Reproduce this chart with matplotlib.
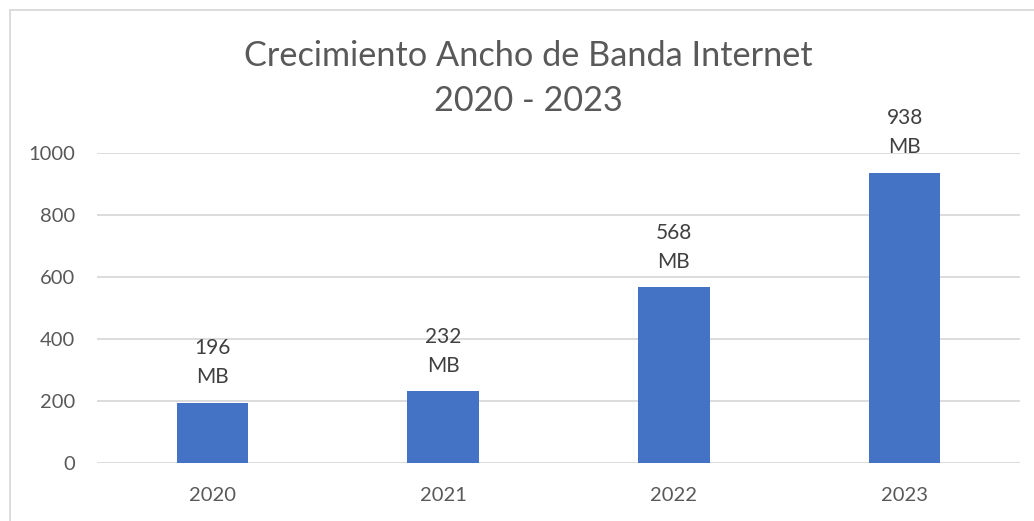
import matplotlib.pyplot as plt
from matplotlib.patches import Rectangle

# Data
years = ["2020", "2021", "2022", "2023"]
bandwidth = [196, 232, 568, 938]
yticks = [0, 200, 400, 600, 800, 1000]

plt.rcParams['font.family'] = ['Lato', 'DejaVu Sans']

W, H = 1034, 521
fig = plt.figure(figsize=(W / 100, H / 100), dpi=100)
ax = fig.add_axes([97 / W, 1 - 463.3 / H, (1020 - 97) / W, (463.3 - 153.3) / H])

x = list(range(len(years)))
ax.bar(x, bandwidth, width=0.31, color='#4472C4', zorder=3)

ax.set_xlim(-0.5, len(years) - 0.5)
ax.set_ylim(0, 1000)
ax.set_yticks(yticks)
ax.set_xticks(x)
ax.set_xticklabels(years)

for s in ax.spines.values():
    s.set_visible(False)
ax.yaxis.grid(True, color='#d9d9d9', linewidth=1.3, zorder=0)
ax.set_axisbelow(True)
ax.tick_params(axis='both', length=0, labelsize=14.5, labelcolor='#595959')
ax.tick_params(axis='y', pad=16)
ax.tick_params(axis='x', pad=17)

for xi, v in zip(x, bandwidth):
    ax.annotate(f"{v}\nMB", xy=(xi, v), xytext=(0, 11), textcoords='offset points',
                ha='center', va='bottom', fontsize=15, color='#404040',
                linespacing=1.55, annotation_clip=False)

# title
fig.text(528.5 / W, 1 - 56 / H, "Crecimiento Ancho de Banda Internet",
         ha='center', va='center', fontsize=24.7, color='#595959', fontweight='normal')
fig.text(528.5 / W, 1 - 101 / H, "2020 - 2023",
         ha='center', va='center', fontsize=24.7, color='#595959', fontweight='normal')

# chart border (only left and top visible)
fig.patches.append(Rectangle((9.5 / W, -0.1), 1.2, 1 - 10 / H + 0.1,
                             transform=fig.transFigure, fill=False,
                             edgecolor='#d9d9d9', linewidth=1.3))

fig.savefig("out.png", dpi=100)
